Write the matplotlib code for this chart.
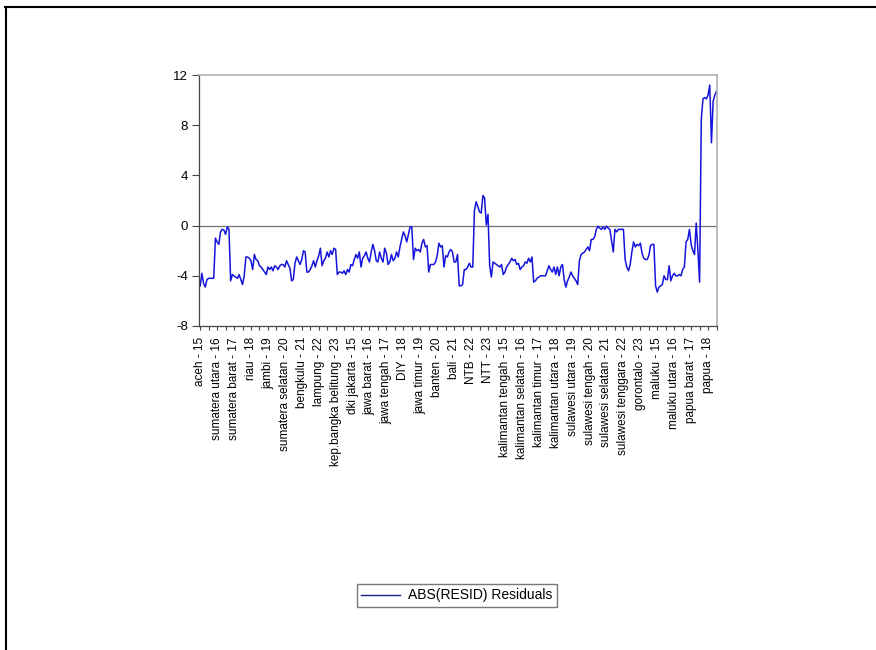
import matplotlib
matplotlib.use('Agg')
import matplotlib.pyplot as plt
from matplotlib.lines import Line2D

plt.rcParams['font.family'] = ['Liberation Sans', 'DejaVu Sans']

# one label every 10 observations (province - year)
TICK_LABELS = ['aceh - 15', 'sumatera utara - 16', 'sumatera barat - 17', 'riau - 18',
               'jambi - 19', 'sumatera selatan - 20', 'bengkulu - 21', 'lampung - 22',
               'kep.bangka belitung - 23', 'dki jakarta - 15', 'jawa barat - 16',
               'jawa tengah - 17', 'DIY - 18', 'jawa timur - 19', 'banten - 20',
               'bali - 21', 'NTB - 22', 'NTT - 23', 'kalimantan tengah - 15',
               'kalimantan selatan - 16', 'kalimantan timur - 17', 'kalimantan utara - 18',
               'sulawesi utara - 19', 'sulawesi tengah - 20', 'sulawesi selatan - 21',
               'sulawesi tenggara - 22', 'gorontalo - 23', 'maluku - 15',
               'maluku utara - 16', 'papua barat - 17', 'papua - 18']

# residuals, 34 provinces x 9 years
RESID = [
    -4.8, -3.8, -4.6, -4.9, -4.3, -4.2, -4.2, -4.2, -4.2,
    -1.0, -1.3, -1.5, -0.5, -0.3, -0.35, -0.7, -0.1, -0.3,
    -4.4, -3.9, -4.0, -4.1, -4.2, -3.9, -4.3, -4.7, -4.0,
    -2.5, -2.5, -2.6, -2.8, -3.5, -2.3, -2.7, -2.8, -3.2,
    -3.3, -3.5, -3.7, -3.9, -3.3, -3.5, -3.3, -3.6, -3.2,
    -3.3, -3.5, -3.2, -3.1, -3.1, -3.3, -2.8, -3.1, -3.4,
    -4.4, -4.3, -3.0, -2.5, -2.8, -3.1, -2.7, -2.0, -2.1,
    -3.7, -3.7, -3.5, -3.2, -2.8, -3.3, -2.8, -2.4, -1.8,
    -3.2, -2.8, -2.6, -2.1, -2.5, -2.0, -2.3, -1.8, -1.9,
    -3.9, -3.7, -3.7, -3.8, -3.6, -3.9, -3.5, -3.7, -3.1,
    -3.2, -2.7, -2.3, -2.6, -2.1, -3.3, -2.6, -2.4, -2.1,
    -2.6, -2.9, -2.1, -1.5, -2.0, -2.8, -2.9, -2.1, -2.6,
    -2.9, -1.8, -2.2, -3.1, -2.9, -2.3, -2.8, -2.6, -2.1,
    -2.5, -1.7, -1.1, -0.5, -0.8, -1.3, -0.7, -0.1, -0.1,
    -2.7, -1.8, -2.0, -1.9, -2.1, -1.4, -1.1, -1.7, -1.6,
    -3.7, -3.1, -3.1, -3.1, -2.9, -2.4, -1.4, -1.7, -1.6,
    -3.3, -2.4, -2.5, -2.1, -1.9, -2.1, -2.9, -2.9, -2.3,
    -4.8, -4.8, -4.7, -3.5, -3.5, -3.3, -3.0, -3.3, -3.3,
    1.2, 1.9, 1.5, 1.1, 1.0, 2.4, 2.2, 0.05, 0.9,
    -3.2, -4.1, -2.9, -3.0, -3.1, -3.2, -3.3, -3.1, -3.9,
    -3.7, -3.3, -3.1, -2.9, -2.6, -2.8, -2.7, -3.1, -3.0,
    -3.5, -3.3, -3.2, -2.9, -3.0, -2.6, -2.9, -2.5, -4.5,
    -4.4, -4.2, -4.1, -4.0, -4.0, -4.0, -4.0, -3.6, -3.2,
    -3.5, -3.7, -3.3, -3.9, -3.3, -4.0, -3.3, -3.1, -4.3,
    -4.9, -4.4, -4.1, -3.7, -4.0, -4.2, -4.4, -4.7, -2.8,
    -2.3, -2.2, -2.1, -1.9, -1.7, -2.0, -1.1, -1.1, -0.9,
    -0.3, -0.05, -0.2, -0.3, -0.1, -0.3, -0.05, -0.2, -0.3,
    -1.2, -2.1, -0.3, -0.5, -0.3, -0.3, -0.3, -0.3, -2.7,
    -3.3, -3.6, -3.1, -2.1, -1.3, -1.7, -1.5, -1.6, -1.4,
    -2.2, -2.6, -2.7, -2.7, -2.4, -1.6, -1.5, -1.5, -4.8,
    -5.3, -4.9, -4.8, -4.7, -4.0, -4.3, -4.3, -3.2, -4.4,
    -4.0, -3.8, -4.0, -4.0, -3.9, -4.0, -3.5, -3.3, -1.3,
    -1.1, -0.3, -1.5, -2.0, -2.3, 0.2, -2.0, -4.5, 8.5,
    10.1, 10.2, 10.1, 10.4, 11.2, 6.6, 9.9, 10.4, 10.7,
]
Y_TICKS = [-8, -4, 0, 4, 8, 12]

fig = plt.figure(figsize=(8.76, 6.5), dpi=100)
ax = fig.add_axes([199 / 876, 1 - 326 / 650, (716.7 - 199) / 876, (326 - 75) / 650])

obs = list(range(len(RESID)))
line, = ax.plot(obs, RESID, color='#1414dc', lw=1.1)
ax.axhline(0, color='#707070', lw=0.9, zorder=1)

ax.set_xlim(-0.7, 305.1)
ax.set_ylim(-8, 12)
ax.set_yticks(Y_TICKS)
ax.set_yticklabels([str(v) for v in Y_TICKS], fontsize=9.5)
ax.set_xticks(range(0, len(RESID), 10))
ax.set_xticklabels(TICK_LABELS, rotation=90, fontsize=8.5, va='top', ha='center')
ax.set_xticks(range(5, len(RESID), 10), minor=True)
ax.tick_params(axis='x', which='both', length=3, width=0.8, color='#444444', pad=5)
ax.tick_params(axis='y', length=5, width=0.8, color='#444444', pad=3)

for s in ['left', 'bottom']:
    ax.spines[s].set_color('#444444')
    ax.spines[s].set_linewidth(0.9)
for s in ['top', 'right']:
    ax.spines[s].set_color('#b0b0b0')
    ax.spines[s].set_linewidth(1.2)

handle = Line2D([], [], color='#1a1a8a', lw=1)
fig.legend([handle], ['ABS(RESID) Residuals'], loc='center',
           bbox_to_anchor=(457 / 876, 1 - 595.5 / 650), fontsize=10,
           frameon=True, fancybox=False, edgecolor='#555555',
           handlelength=2.8, borderpad=0.3, handletextpad=0.6)

# outer frame (top and left edges only)
fig.add_artist(Line2D([5 / 876, 1], [1 - 7 / 650, 1 - 7 / 650], color='black', lw=1.5,
                      transform=fig.transFigure))
fig.add_artist(Line2D([6 / 876, 6 / 876], [0, 1 - 7 / 650], color='black', lw=1.5,
                      transform=fig.transFigure))

fig.savefig('out.png', dpi=100)
